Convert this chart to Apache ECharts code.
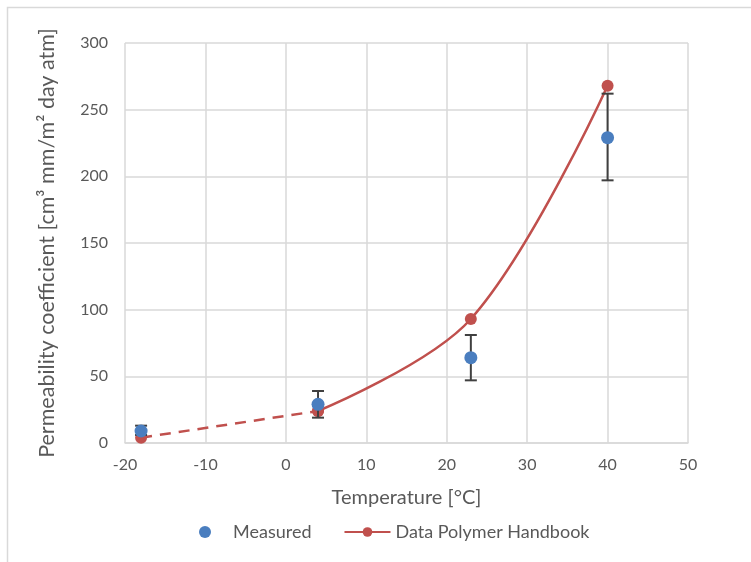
<!DOCTYPE html>
<html><head><meta charset="utf-8">
<script src="https://cdn.jsdelivr.net/npm/echarts@6/dist/echarts.min.js"></script>
<style>html,body{margin:0;padding:0;background:#fff}#c{width:751px;height:562px}</style>
</head><body><div id="c"></div>
<script>
const xTicks = [-20, -10, 0, 10, 20, 30, 40, 50];
const yTicks = [0, 50, 100, 150, 200, 250, 300];
const measuredT = [-18, 4, 23, 40];
const measuredP = [9, 29, 64, 229];
const errLow = [6, 19, 47, 197];
const errHigh = [13, 39, 81, 262];
const handbookT = [-18, 4, 23, 40];
const handbookP = [4, 24, 93, 268];

const FONT = 'Lato';
const TXT = '#595959';
const BLUE = '#4a7ebf';
const RED = '#c0504d';

const measuredData = measuredT.map((t, i) => [t, measuredP[i]]);
const errData = measuredT.map((t, i) => [t, errLow[i], errHigh[i]]);
const hbAll = handbookT.map((t, i) => [t, handbookP[i]]);
const hbDashed = hbAll.slice(0, 2);
const hbSolid = hbAll.slice(1);

const chart = echarts.init(document.getElementById('c'));
chart.setOption({
  animation: false,
  backgroundColor: '#fff',
  textStyle: { fontFamily: FONT },
  graphic: [{
    type: 'rect', z: -10, silent: true,
    shape: { x: 7.5, y: 7.5, width: 800, height: 600 },
    style: { fill: 'none', stroke: '#d9d9d9', lineWidth: 1.5 }
  }],
  grid: { left: 125, right: 63, top: 43, bottom: 119, containLabel: false },
  xAxis: {
    type: 'value', min: xTicks[0], max: xTicks[xTicks.length - 1], interval: 10,
    name: 'Temperature [°C]', nameLocation: 'middle', nameGap: 45,
    nameTextStyle: { color: TXT, fontSize: 20, fontFamily: FONT },
    axisLine: { show: true, lineStyle: { color: '#d9d9d9', width: 1.5 } },
    axisTick: { show: false },
    axisLabel: { color: TXT, fontSize: 16, margin: 14, fontFamily: FONT },
    splitLine: { show: true, lineStyle: { color: '#d9d9d9', width: 1.5 } }
  },
  yAxis: {
    type: 'value', min: yTicks[0], max: yTicks[yTicks.length - 1], interval: 50,
    name: 'Permeability coefficient [cm³ mm/m² day atm]', nameLocation: 'middle', nameGap: 67,
    nameTextStyle: { color: TXT, fontSize: 21.5, fontFamily: FONT },
    axisLine: { show: false }, axisTick: { show: false },
    axisLabel: { color: TXT, fontSize: 16, margin: 17, fontFamily: FONT },
    splitLine: { show: true, lineStyle: { color: '#d9d9d9', width: 1.5 } }
  },
  legend: {
    bottom: 16, left: 194, itemGap: 32, itemWidth: 46, itemHeight: 12,
    textStyle: { color: TXT, fontSize: 18, fontFamily: FONT },
    data: [
      { name: 'Measured', icon: 'circle', itemStyle: { color: BLUE } },
      { name: 'Data Polymer Handbook' }
    ]
  },
  series: [
    {
      name: 'Data Polymer Handbook', type: 'line', data: hbSolid, smooth: 0.35,
      symbol: 'circle', symbolSize: 12, z: 2,
      lineStyle: { color: RED, width: 2.5 }, itemStyle: { color: RED }
    },
    {
      name: 'Data Polymer Handbook', type: 'line', data: hbDashed,
      symbol: 'circle', symbolSize: 12, z: 2,
      lineStyle: { color: RED, width: 2.5, type: [11, 8] }, itemStyle: { color: RED }
    },
    {
      name: 'Measured', type: 'custom', z: 3, data: errData,
      renderItem: function (params, api) {
        const x = api.value(0);
        const lo = api.coord([x, api.value(1)]);
        const hi = api.coord([x, api.value(2)]);
        const w = 6;
        const st = { stroke: '#404040', lineWidth: 2 };
        return { type: 'group', children: [
          { type: 'line', shape: { x1: lo[0], y1: lo[1], x2: hi[0], y2: hi[1] }, style: st },
          { type: 'line', shape: { x1: lo[0] - w, y1: lo[1], x2: lo[0] + w, y2: lo[1] }, style: st },
          { type: 'line', shape: { x1: hi[0] - w, y1: hi[1], x2: hi[0] + w, y2: hi[1] }, style: st }
        ]};
      },
      encode: { x: 0, y: [1, 2] }
    },
    {
      name: 'Measured', type: 'scatter', data: measuredData, z: 4,
      symbol: 'circle', symbolSize: 13, itemStyle: { color: BLUE, opacity: 1 }
    }
  ]
});
</script></body></html>
